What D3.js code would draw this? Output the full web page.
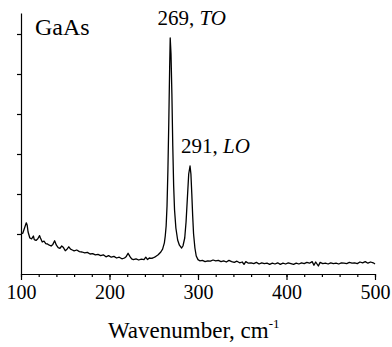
<!DOCTYPE html>
<html>
<head>
<meta charset="utf-8">
<script src="https://cdn.jsdelivr.net/npm/d3@7"></script>
<style>
  body { margin: 0; background: #fff; }
  svg { display: block; font-family: "Liberation Serif", "Times New Roman", serif; }
  .axis path, .axis line { stroke: #000; stroke-width: 1.2; }
  .axis text { fill: #000; font-size: 20px; font-family: "Liberation Serif", "Times New Roman", serif; }
</style>
</head>
<body>
<svg id="chart" width="392" height="347"></svg>
<script>
// Raman spectrum of GaAs (intensity in axis tick units)
var wavenumber = [
  100, 102, 104, 106, 107, 108, 110, 112, 114, 115, 117, 119, 121, 122, 124, 126, 128, 130,
  132, 134, 136, 138, 140, 142, 144, 146, 148, 150, 152, 154, 156, 158, 160, 163, 166, 169,
  172, 175, 178, 181, 184, 187, 190, 193, 196, 199, 202, 205, 208, 211, 214, 217, 219, 221,
  223, 225, 227, 230, 233, 236, 239, 241, 243, 245, 247, 249, 251, 253, 255,
  258, 260, 262, 263, 264, 265, 266, 267, 268, 268.6, 269.5, 270.5, 271.5, 272.5, 273.5,
  275, 277, 279, 281.5, 283, 285, 286.5, 288, 289.5, 291, 292, 293, 294, 295, 296.5, 298, 300,
  302, 305, 308, 311, 314, 317, 320, 323, 326, 329, 332, 335, 338, 341, 344, 347, 350, 352,
  354, 357, 360, 363, 366, 369, 372, 375, 378, 381, 384, 387, 390, 393, 396, 399, 402, 405,
  408, 411, 414, 417, 420, 423, 426, 429, 431, 433, 436, 438, 441, 444, 447, 450, 453, 456,
  459, 462, 465, 468, 471, 474, 477, 480, 483, 486, 489, 492, 495, 498, 500
];
var intensity = [
  1.00, 1.02, 1.15, 1.28, 1.22, 1.05, 0.90, 0.88, 0.95, 0.86, 0.84, 0.88, 0.96, 0.90, 0.80, 0.82, 0.76, 0.75,
  0.72, 0.70, 0.74, 0.83, 0.72, 0.66, 0.64, 0.70, 0.66, 0.58, 0.62, 0.68, 0.62, 0.60, 0.58, 0.60, 0.56, 0.55,
  0.53, 0.54, 0.50, 0.51, 0.48, 0.49, 0.46, 0.48, 0.43, 0.46, 0.42, 0.44, 0.40, 0.42, 0.38, 0.40, 0.44, 0.52,
  0.44, 0.38, 0.36, 0.38, 0.35, 0.37, 0.36, 0.42, 0.36, 0.40, 0.39, 0.40, 0.42, 0.45, 0.48,
  0.55, 0.62, 0.78, 0.95, 1.20, 1.70, 2.60, 3.80, 5.20, 5.90, 5.50, 4.50, 3.20, 2.20, 1.60,
  1.15, 0.85, 0.72, 0.65, 0.70, 0.90, 1.30, 1.90, 2.50, 2.70, 2.50, 2.00, 1.45, 1.00, 0.65, 0.45, 0.36,
  0.33, 0.34, 0.31, 0.33, 0.32, 0.35, 0.33, 0.34, 0.31, 0.33, 0.30, 0.34, 0.31, 0.29, 0.32, 0.28, 0.30, 0.24,
  0.31, 0.27, 0.28, 0.26, 0.29, 0.25, 0.28, 0.26, 0.27, 0.24, 0.27, 0.25, 0.28, 0.24, 0.27, 0.25, 0.28, 0.26,
  0.24, 0.27, 0.25, 0.28, 0.26, 0.29, 0.27, 0.31, 0.22, 0.30, 0.20, 0.29, 0.26, 0.27, 0.25, 0.28, 0.26, 0.27,
  0.25, 0.28, 0.27, 0.26, 0.29, 0.27, 0.28, 0.26, 0.30, 0.28, 0.31, 0.27, 0.30, 0.28, 0.25
];
var xMajorTicks = [100, 200, 300, 400, 500];
var xMinorTicks = d3.range(100, 501, 20);
var yTicks = [1, 2, 3, 4, 5, 6];
var peakLabels = [
  { x: 269, y: 5.9, num: "269, ", mode: "TO" },
  { x: 291, y: 2.7, num: "291, ", mode: "LO" }
];

var svg = d3.select("#chart");
var x = d3.scaleLinear().domain([100, 500]).range([21, 375]);
var y = d3.scaleLinear().domain([0, 6.525]).range([274, 13]);

// x axis: minor ticks then labelled major ticks
svg.append("g")
    .attr("class", "axis")
    .attr("transform", "translate(0," + y(0) + ")")
    .call(d3.axisBottom(x).tickValues(xMinorTicks).tickSize(3).tickSizeOuter(0).tickFormat(""));
svg.append("g")
    .attr("class", "axis")
    .attr("transform", "translate(0," + y(0) + ")")
    .call(d3.axisBottom(x).tickValues(xMajorTicks).tickSize(6).tickSizeOuter(0).tickPadding(5).tickFormat(d3.format("d")))
    .select(".domain").remove();

// y axis without labels
svg.append("g")
    .attr("class", "axis")
    .attr("transform", "translate(" + x(100) + ",0)")
    .call(d3.axisLeft(y).tickValues(yTicks).tickSize(4).tickSizeOuter(0).tickFormat(""));

var line = d3.line()
    .x(function(d, i) { return x(wavenumber[i]); })
    .y(function(d) { return y(d); });

svg.append("path")
    .datum(intensity)
    .attr("fill", "none")
    .attr("stroke", "#000")
    .attr("stroke-width", 1.3)
    .attr("stroke-linejoin", "round")
    .attr("d", line);

svg.append("text")
    .attr("x", 35)
    .attr("y", 35)
    .attr("font-size", 24)
    .text("GaAs");

// labels sit up and to the left of each peak top
peakLabels.forEach(function(p, i) {
  var t = svg.append("text")
      .attr("x", x(p.x) - (i === 0 ? 13 : 9))
      .attr("y", y(p.y) - 13)
      .attr("font-size", 21);
  t.append("tspan").text(p.num);
  t.append("tspan").attr("font-style", "italic").text(p.mode);
});

var title = svg.append("text")
    .attr("x", 108)
    .attr("y", 338)
    .attr("font-size", 23);
title.append("tspan").text("Wavenumber, cm");
title.append("tspan").attr("font-size", 13).attr("dy", -10).text("-1");
</script>
</body>
</html>
